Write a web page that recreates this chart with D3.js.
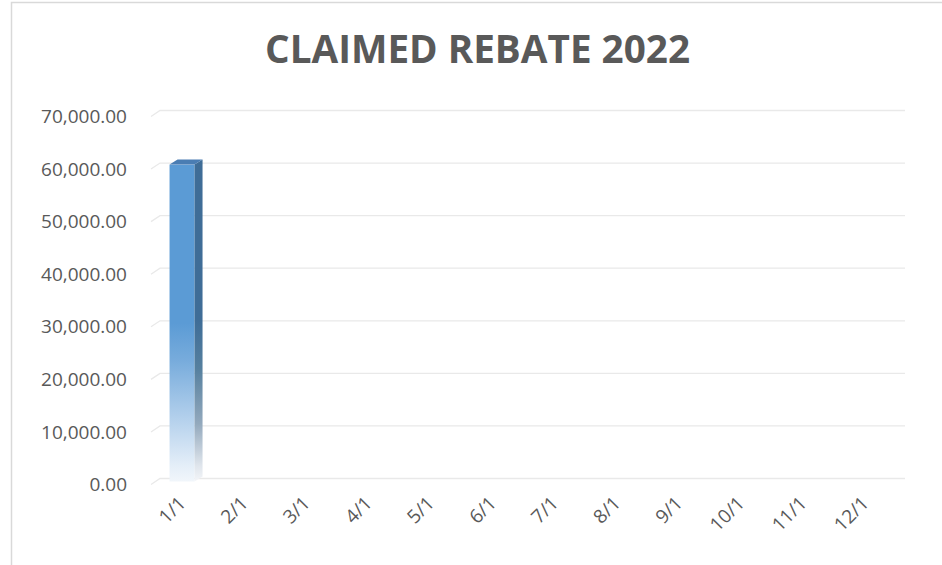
<!DOCTYPE html>
<html>
<head>
<meta charset="utf-8">
<script src="https://cdn.jsdelivr.net/npm/d3@7"></script>
<style>
  html, body { margin: 0; padding: 0; background: #ffffff; }
  svg { display: block; }
</style>
</head>
<body>
<svg id="chart" width="942" height="565"></svg>
<script>
// ---- data ----
const title = "CLAIMED REBATE 2022";
const categories = ["1/1","2/1","3/1","4/1","5/1","6/1","7/1","8/1","9/1","10/1","11/1","12/1"];
const values = [60850, null, null, null, null, null, null, null, null, null, null, null];
const yTicks = [0, 10000, 20000, 30000, 40000, 50000, 60000, 70000];

// ---- layout ----
const W = 942, H = 565;
const plot = { left: 160, right: 905, top: 110.5, bottom: 478.5 };
const depth = { dx: -9, dy: 6 };   // offset from back plane to front plane
const font = "'Open Sans', 'Liberation Sans', sans-serif";
const textColor = "#595959";
const gridColor = "#e9e9e9";

const svg = d3.select("#chart");
const defs = svg.append("defs");

// chart border
svg.append("rect")
  .attr("x", 11.5).attr("y", 2.5)
  .attr("width", W + 20).attr("height", H + 20)
  .attr("fill", "#ffffff")
  .attr("stroke", "#d9d9d9").attr("stroke-width", 1.5);

// title
svg.append("text")
  .attr("x", 477.5).attr("y", 63)
  .attr("text-anchor", "middle")
  .attr("font-family", font).attr("font-weight", 700)
  .attr("font-size", 40)
  .attr("fill", textColor)
  .attr("textLength", 425).attr("lengthAdjust", "spacingAndGlyphs")
  .text(title);

// scales
const x = d3.scaleBand().domain(categories).range([plot.left, plot.right]).paddingInner(0).paddingOuter(0);
const y = d3.scaleLinear().domain([0, 70000]).range([plot.bottom, plot.top]);
const fmt = d3.format(",.2f");

// gridlines with 3D floor diagonal
const grid = svg.append("g");
yTicks.forEach(t => {
  const yy = y(t);
  grid.append("path")
    .attr("d", `M${plot.left + depth.dx},${yy + depth.dy}L${plot.left},${yy}L${plot.right},${yy}`)
    .attr("fill", "none").attr("stroke", gridColor).attr("stroke-width", 1.3);
});

// y axis labels
svg.append("g").selectAll("text").data(yTicks).join("text")
  .attr("x", 127)
  .attr("y", d => y(d) + depth.dy)
  .attr("dy", "0.35em")
  .attr("text-anchor", "end")
  .attr("font-family", font).attr("font-size", 19)
  .attr("fill", textColor)
  .text(d => fmt(d));

// x axis labels (rotated)
svg.append("g").selectAll("text").data(categories).join("text")
  .attr("transform", d => {
    const cx = x(d) + x.bandwidth() / 2 + depth.dx + 5;
    return `translate(${cx},${plot.bottom + 26}) rotate(-45)`;
  })
  .attr("text-anchor", "end")
  .attr("font-family", font).attr("font-size", 19)
  .attr("fill", textColor)
  .text(d => d);

// gradients
const gFront = defs.append("linearGradient").attr("id", "gFront")
  .attr("x1", 0).attr("y1", 0).attr("x2", 0).attr("y2", 1);
[[0, "#5b9bd5"], [0.5, "#5b9bd5"], [0.62, "#78acdc"], [0.8, "#b3d0ec"], [0.95, "#e4eef8"], [1, "#f1f6fb"]]
  .forEach(([o, c]) => gFront.append("stop").attr("offset", o).attr("stop-color", c));
const gSide = defs.append("linearGradient").attr("id", "gSide")
  .attr("x1", 0).attr("y1", 0).attr("x2", 0).attr("y2", 1);
[[0, "#3f6d97"], [0.5, "#3f6d97"], [0.65, "#56809f"], [0.82, "#93a9bd"], [0.95, "#dfe5ec"], [1, "#f3f5f8"]]
  .forEach(([o, c]) => gSide.append("stop").attr("offset", o).attr("stop-color", c));

// bars (3D columns)
const barW = 25;
const bars = svg.append("g");
categories.forEach((c, i) => {
  const v = values[i];
  if (v === null || v === undefined) return;
  const bx = x(c) + x.bandwidth() / 2 - barW / 2 + depth.dx; // front-face left
  const yTopF = y(v) + depth.dy;
  const yBotF = y(0) + depth.dy - 3;
  const d = -depth.dx - 1; // side depth in x
  const h = depth.dy - 1;  // top depth in y
  // front
  bars.append("rect")
    .attr("x", bx).attr("y", yTopF).attr("width", barW).attr("height", yBotF - yTopF)
    .attr("fill", "url(#gFront)");
  // side
  bars.append("path")
    .attr("d", `M${bx + barW},${yTopF}L${bx + barW + d},${yTopF - h}L${bx + barW + d},${yBotF - h}L${bx + barW},${yBotF}Z`)
    .attr("fill", "url(#gSide)");
  // top
  bars.append("path")
    .attr("d", `M${bx},${yTopF}L${bx + d},${yTopF - h}L${bx + barW + d},${yTopF - h}L${bx + barW},${yTopF}Z`)
    .attr("fill", "#4a7db3");
});
</script>
</body>
</html>
